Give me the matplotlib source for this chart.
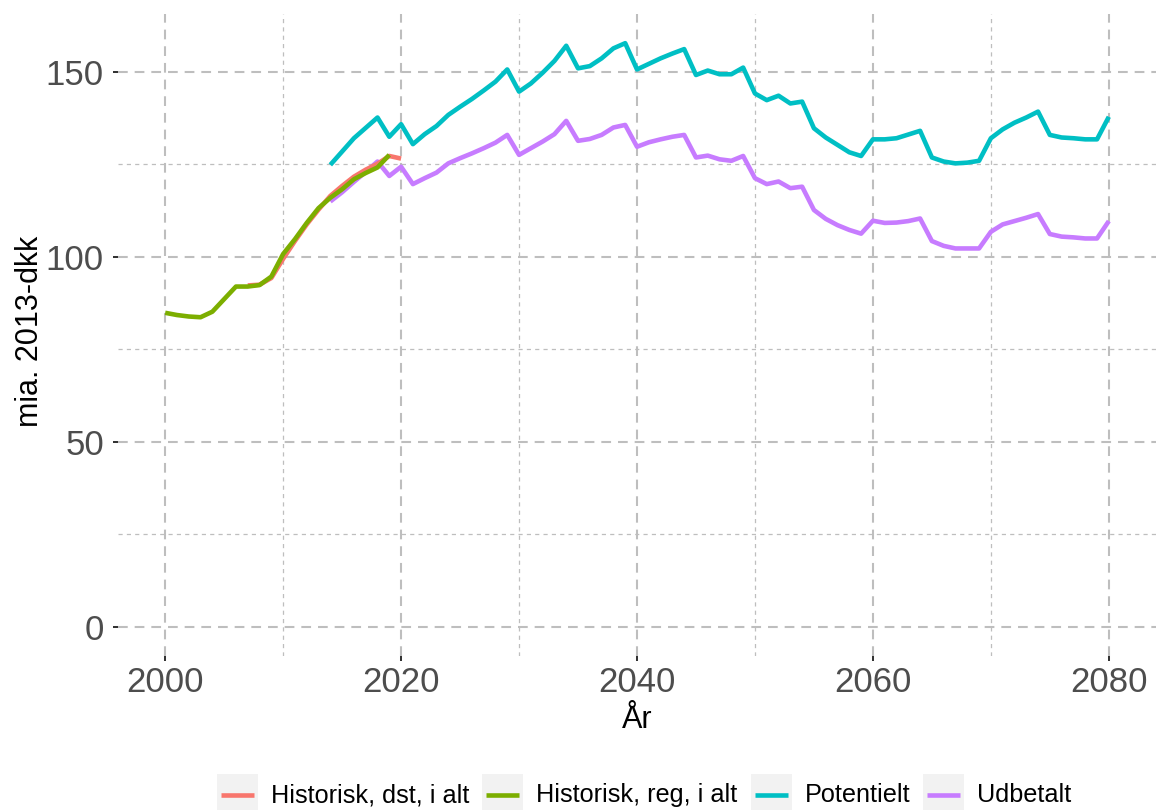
import matplotlib
matplotlib.use("Agg")
import matplotlib.pyplot as plt
from matplotlib.patches import Rectangle
from matplotlib.lines import Line2D
import numpy as np

plt.rcParams["font.family"] = ["Liberation Sans", "DejaVu Sans"]
plt.rcParams["lines.scale_dashes"] = False

# ---- data (mia. 2013-dkk) ----
years_reg = list(range(2000, 2020))
hist_reg = [84.9, 84.3, 83.9, 83.7, 85.2, 88.6, 92.0, 92.0, 92.4, 94.7,
            100.8, 104.8, 109.2, 113.2, 116.0, 118.3, 121.0, 122.7, 124.2, 127.6]

years_dst = list(range(2007, 2021))
hist_dst = [92.3, 92.5, 94.3, 99.5, 104.3, 108.8, 112.8, 116.5, 119.2, 121.7,
            123.6, 125.2, 127.3, 126.6]

years_proj = list(range(2014, 2081))
potentielt = [124.9, 128.5, 132.1, 134.9, 137.7, 132.5, 135.9, 130.5, 133.2, 135.4,
              138.4, 140.6, 142.7, 145.0, 147.4, 150.7, 144.7, 146.9, 149.8, 153.0,
              157.1, 151.0, 151.6, 153.7, 156.4, 157.8, 150.7, 152.2, 153.7, 155.0,
              156.2, 149.2, 150.4, 149.4, 149.4, 151.2, 144.2, 142.4, 143.6, 141.5,
              142.0, 134.8, 132.3, 130.3, 128.3, 127.3, 131.8, 131.8, 132.1, 133.1,
              134.1, 126.9, 125.8, 125.3, 125.5, 126.0, 132.1, 134.5, 136.3, 137.7,
              139.3, 133.0, 132.3, 132.1, 131.8, 131.8, 137.9]
udbetalt = [115.0, 117.5, 120.3, 123.0, 125.8, 121.9, 124.4, 119.7, 121.3, 122.8,
            125.3, 126.7, 128.0, 129.4, 130.9, 133.0, 127.6, 129.4, 131.2, 133.2,
            136.8, 131.4, 131.9, 133.0, 135.0, 135.7, 129.8, 131.0, 131.8, 132.5,
            133.0, 126.9, 127.4, 126.4, 126.0, 127.3, 121.3, 119.7, 120.4, 118.6,
            119.0, 112.7, 110.3, 108.6, 107.3, 106.3, 109.8, 109.2, 109.3, 109.7,
            110.4, 104.3, 103.0, 102.3, 102.3, 102.3, 106.8, 108.8, 109.7, 110.6,
            111.6, 106.2, 105.5, 105.3, 105.0, 105.0, 109.7]

labels = ["Historisk, dst, i alt", "Historisk, reg, i alt", "Potentielt", "Udbetalt"]
colors = ["#F8766D", "#7CAE00", "#00BFC4", "#C77CFF"]

x_major = [2000, 2020, 2040, 2060, 2080]
x_minor = [2010, 2030, 2050, 2070]
y_major = [0, 50, 100, 150]
y_minor = [25, 75, 125]

# ---- figure / panel geometry in pixels ----
W, H = 1156, 810
fig = plt.figure(figsize=(W / 100, H / 100), dpi=100)
pl, pr, pt, pb = 118, 1156, 14, 656
ax = fig.add_axes([pl / W, 1 - pb / H, (pr - pl) / W, (pb - pt) / H])

lw = 3.3
style = dict(lw=lw, solid_capstyle="butt", solid_joinstyle="round")
ax.plot(years_proj, potentielt, color=colors[2], **style, zorder=3)
ax.plot(years_proj, udbetalt, color=colors[3], **style, zorder=3)
ax.plot(years_dst, hist_dst, color=colors[0], **style, zorder=3)
ax.plot(years_reg, hist_reg, color=colors[1], **style, zorder=3)

# axis ranges with 5% expansion
xmin, xmax = 2000, 2080
xr = xmax - xmin
ax.set_xlim(xmin - 0.05 * xr, xmax + 0.05 * xr)
all_y = hist_reg + hist_dst + potentielt + udbetalt + [0]
ylo, yhi = min(all_y), max(all_y)
yr = yhi - ylo
ax.set_ylim(ylo - 0.05 * yr, yhi + 0.05 * yr)

ax.set_xticks(x_major)
ax.set_xticks(x_minor, minor=True)
ax.set_yticks(y_major)
ax.set_yticks(y_minor, minor=True)

grid_col = "#BEBEBE"
ax.grid(which="major", color=grid_col, lw=1.5, linestyle=(0, (7.0, 5.0)))
ax.grid(which="minor", color=grid_col, lw=0.9, linestyle=(0, (3.0, 3.0)))
ax.set_axisbelow(True)

for s in ax.spines.values():
    s.set_visible(False)

ax.tick_params(which="major", length=3.6, width=1.45, color="#333333",
               labelsize=25, labelcolor="#4D4D4D")
ax.tick_params(axis="y", which="major", pad=6.5)
ax.tick_params(axis="x", which="major", pad=3.5)
ax.tick_params(which="minor", length=0)

# axis titles
fig.text(637 / W, 1 - 728 / H, "År", ha="center", va="baseline",
         fontsize=22, color="black")
fig.text(38 / W, 1 - 331 / H, "mia. 2013-dkk", ha="center", va="baseline",
         rotation=90, rotation_mode="anchor", fontsize=22, color="black")

# legend at the bottom, drawn as keys with grey background
fig.canvas.draw()
renderer = fig.canvas.get_renderer()
x = 217
key_w, key_top, key_bot = 41, 774, 816
ly = 795
for lab, col in zip(labels, colors):
    fig.patches.append(Rectangle((x / W, 1 - key_bot / H), key_w / W,
                                 (key_bot - key_top) / H, transform=fig.transFigure,
                                 facecolor="#F2F2F2", edgecolor="none"))
    fig.lines.append(Line2D([(x + 4) / W, (x + 37) / W], [1 - ly / H, 1 - ly / H],
                            transform=fig.transFigure, color=col, lw=lw,
                            solid_capstyle="butt"))
    t = fig.text((x + key_w + 13) / W, 1 - ly / H, lab, ha="left", va="center",
                 fontsize=18.2, color="black")
    bb = t.get_window_extent(renderer)
    x = bb.x1 + 13

fig.savefig("out.png", dpi=100)
